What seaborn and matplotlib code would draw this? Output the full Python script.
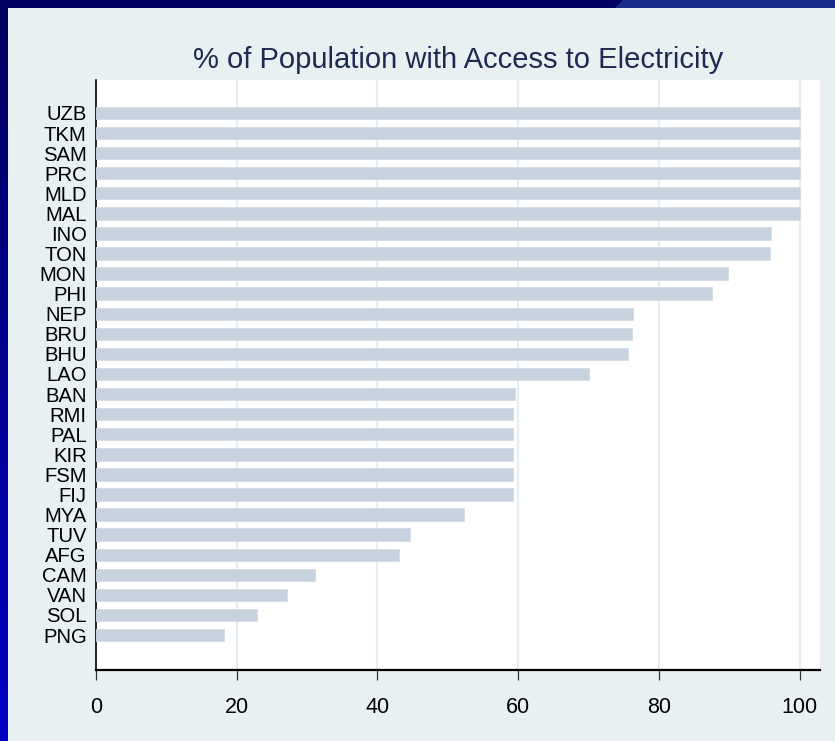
import matplotlib
matplotlib.use("Agg")
import matplotlib.pyplot as plt
from matplotlib.patches import Polygon, Rectangle
import numpy as np
import pandas as pd
import seaborn as sns

# Share of population with access to electricity, by economy
countries = ["UZB", "TKM", "SAM", "PRC", "MLD", "MAL", "INO", "TON", "MON",
             "PHI", "NEP", "BRU", "BHU", "LAO", "BAN", "RMI", "PAL", "KIR",
             "FSM", "FIJ", "MYA", "TUV", "AFG", "CAM", "VAN", "SOL", "PNG"]
access_pct = [100, 100, 100, 100, 100, 100, 96.0, 95.8, 89.8,
              87.6, 76.3, 76.2, 75.6, 70.1, 59.5, 59.2, 59.2, 59.2,
              59.2, 59.2, 52.3, 44.6, 43.0, 31.1, 27.1, 22.9, 18.2]
x_ticks = [0, 20, 40, 60, 80, 100]
title = "% of Population with Access to Electricity"

df = pd.DataFrame({"country": countries, "access": access_pct})

sns.set_theme(style="white")
plt.rcParams["font.family"] = ["Liberation Sans", "DejaVu Sans"]

W, H = 835, 741
fig = plt.figure(figsize=(W / 100, H / 100), dpi=100)
panel = "#E8F0F2"
fig.patch.set_facecolor(panel)

# Frame: dark top band with lighter slanted segment, blue gradient at the left
fig.add_artist(Rectangle((0, 1 - 8 / H), 1, 8 / H, transform=fig.transFigure,
                         facecolor="#000060", edgecolor="none", zorder=0))
fig.add_artist(Polygon([(623 / W, 1), (1, 1), (1, 1 - 8 / H), (615 / W, 1 - 8 / H)],
                       closed=True, transform=fig.transFigure,
                       facecolor="#182C8C", edgecolor="none", zorder=0))
strip = fig.add_axes([0, 0, 8 / W, 1 - 8 / H])
grad = np.linspace(0, 1, 256).reshape(-1, 1)
top_c = np.array([0, 0, 96]) / 255
bot_c = np.array([0, 0, 196]) / 255
img = top_c[None, None, :] * (1 - grad[..., None]) + bot_c[None, None, :] * grad[..., None]
strip.imshow(img, aspect="auto", extent=[0, 1, 0, 1], origin="upper")
strip.set_axis_off()

ax = fig.add_axes([96 / W, 71 / H, (820 - 96) / W, (670 - 80) / H])
ax.set_facecolor("white")

sns.barplot(data=df, x="access", y="country", orient="h", color="#C6D3DF",
            saturation=1, width=0.62, edgecolor="#D3DDE6", linewidth=0.6,
            ax=ax, zorder=3)

ax.set_xlim(0, 102.9)
ax.set_ylim(27.74, -1.64)
ax.set_xticks(x_ticks)
ax.set_xticklabels([str(t) for t in x_ticks])
for t in x_ticks[1:]:
    ax.axvline(t, color="#E6EEF2", lw=1.6, zorder=1)

ax.set_xlabel("")
ax.set_ylabel("")
for side in ["top", "right"]:
    ax.spines[side].set_visible(False)
ax.spines["left"].set_color("black")
ax.spines["left"].set_linewidth(1.2)
ax.spines["bottom"].set_color("black")
ax.spines["bottom"].set_linewidth(1.6)

ax.tick_params(axis="x", direction="out", length=7.2, width=0.9, color="#333333",
               pad=12, labelsize=15.5, labelcolor="black", bottom=True)
ax.tick_params(axis="y", length=0, pad=6.7, labelsize=14.6, labelcolor="black")

fig.text(458 / W, 1 - 68 / H, title, ha="center", va="baseline",
         fontsize=21, color="#1F2A50")

fig.savefig("out.png", dpi=100, facecolor=fig.get_facecolor())
